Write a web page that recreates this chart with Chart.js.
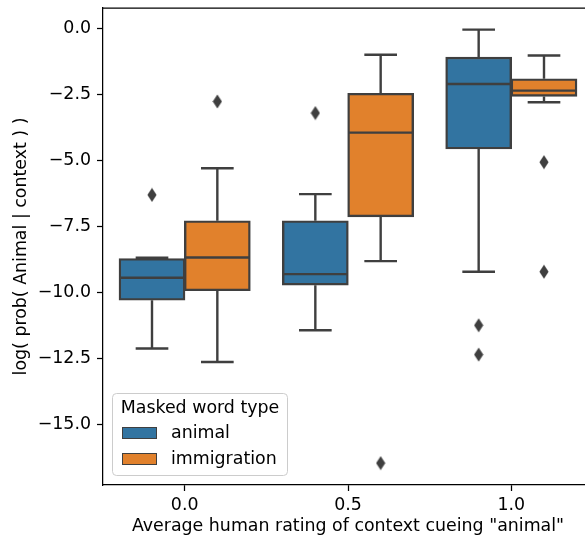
<!DOCTYPE html>
<html>
<head>
<meta charset="utf-8">
<title>log prob boxplot</title>
<script src="https://cdn.jsdelivr.net/npm/chart.js@4.4.0/dist/chart.umd.min.js"></script>
<style>
  html, body { margin: 0; padding: 0; background: #fff; overflow: hidden; }
  #wrap { width: 599px; height: 540px; }
</style>
</head>
<body>
<div id="wrap"><canvas id="box-chart" width="599" height="540"></canvas></div>
<script>
const groups = ['0.0', '0.5', '1.0'];
const yTicks = [0, -2.5, -5, -7.5, -10, -12.5, -15];
const hueNames = ['animal', 'immigration'];
const hueColors = ['#3274a1', '#e1812c'];

// animal boxes: whisker low, Q1, median, Q3, whisker high, outliers
const animalLo = [-12.14, -11.45, -9.23];
const animalQ1 = [-10.31, -9.74, -4.58];
const animalMed = [-9.46, -9.32, -2.12];
const animalQ3 = [-8.73, -7.30, -1.10];
const animalHi = [-8.70, -6.29, -0.06];
const animalOut = [[-6.32], [-3.22], [-11.26, -12.37]];

// immigration boxes
const immigLo = [-12.65, -8.83, -2.81];
const immigQ1 = [-9.95, -7.15, -2.59];
const immigMed = [-8.69, -3.96, -2.37];
const immigQ3 = [-7.30, -2.47, -1.92];
const immigHi = [-5.31, -1.01, -1.04];
const immigOut = [[-2.78], [-16.48], [-5.08, -9.23]];

const EDGE = '#3f3f3f';
const LW = 2.4;
const FONT_PX = 17.4;
const OFFSETS = [-0.2, 0.2];
const BOX_HALF = 0.196;
const CAP_HALF = 0.1;

Chart.defaults.font.family = '"DejaVu Sans", sans-serif';
Chart.defaults.font.size = FONT_PX;
Chart.defaults.color = '#000';

function diamondMarker() {
  const c = document.createElement('canvas');
  c.width = 10; c.height = 15;
  const g = c.getContext('2d');
  g.fillStyle = EDGE;
  g.beginPath();
  g.moveTo(5, 0.4); g.lineTo(9.6, 7.5); g.lineTo(5, 14.6); g.lineTo(0.4, 7.5);
  g.closePath();
  g.fill();
  return c;
}

function boxDataset(name, color, off, q1, q3) {
  return {
    type: 'bar',
    label: name,
    data: q1.map((v, i) => ({ x: i + off, y: [v, q3[i]] })),
    backgroundColor: color,
    borderColor: EDGE,
    borderWidth: LW,
    borderSkipped: false,
    grouped: false,
    barThickness: 66,
    xAxisID: 'x2',
    order: 3,
  };
}

function lineParts(off, lo, q1, med, q3, hi) {
  const pts = [];
  groups.forEach((_, i) => {
    const c = i + off;
    const segs = [
      [[c, q3[i]], [c, hi[i]]],
      [[c - CAP_HALF, hi[i]], [c + CAP_HALF, hi[i]]],
      [[c, q1[i]], [c, lo[i]]],
      [[c - CAP_HALF, lo[i]], [c + CAP_HALF, lo[i]]],
      [[c - BOX_HALF, med[i]], [c + BOX_HALF, med[i]]],
    ];
    segs.forEach(s => {
      pts.push({ x: s[0][0], y: s[0][1] }, { x: s[1][0], y: s[1][1] }, { x: c, y: null });
    });
  });
  return {
    type: 'line',
    data: pts,
    xAxisID: 'x2',
    borderColor: EDGE,
    borderWidth: LW,
    pointRadius: 0,
    spanGaps: false,
    fill: false,
    order: 1,
  };
}

function outlierDataset(off, outs, marker) {
  const pts = [];
  outs.forEach((list, i) => list.forEach(v => pts.push({ x: i + off, y: v })));
  return {
    type: 'line',
    data: pts,
    xAxisID: 'x2',
    showLine: false,
    pointStyle: marker,
    pointRadius: 5,
    order: 0,
  };
}

const topSpine = {
  id: 'topSpine',
  afterDraw(chart) {
    const { ctx, chartArea } = chart;
    ctx.save();
    ctx.strokeStyle = '#000';
    ctx.lineWidth = 1.25;
    ctx.beginPath();
    ctx.moveTo(chartArea.left, chartArea.top);
    ctx.lineTo(chartArea.right, chartArea.top);
    ctx.stroke();
    ctx.restore();
  },
};

const legendBox = {
  id: 'legendBox',
  afterDraw(chart) {
    const ctx = chart.ctx;
    ctx.save();
    ctx.beginPath();
    ctx.roundRect(112.5, 393.5, 175, 82, 4);
    ctx.fillStyle = 'rgba(255,255,255,0.8)';
    ctx.fill();
    ctx.strokeStyle = '#cccccc';
    ctx.lineWidth = 1;
    ctx.stroke();
    ctx.font = `${FONT_PX}px "DejaVu Sans"`;
    ctx.fillStyle = '#000';
    ctx.textBaseline = 'middle';
    ctx.textAlign = 'center';
    ctx.fillText('Masked word type', 200, 408);
    ctx.textAlign = 'left';
    hueNames.forEach((name, i) => {
      const y = 433 + i * 26;
      ctx.fillStyle = hueColors[i];
      ctx.fillRect(122, y - 6, 35, 12);
      ctx.strokeStyle = EDGE;
      ctx.lineWidth = 1;
      ctx.strokeRect(122.5, y - 5.5, 34, 11);
      ctx.fillStyle = '#000';
      ctx.fillText(name, 171, y);
    });
    ctx.restore();
  },
};

function fmtTick(v) {
  return Number(v).toFixed(1).replace('-', '\u2212');
}

const marker = diamondMarker();

new Chart(document.getElementById('box-chart'), {
  type: 'bar',
  data: {
    labels: groups,
    datasets: [
      boxDataset(hueNames[0], hueColors[0], OFFSETS[0], animalQ1, animalQ3),
      boxDataset(hueNames[1], hueColors[1], OFFSETS[1], immigQ1, immigQ3),
      lineParts(OFFSETS[0], animalLo, animalQ1, animalMed, animalQ3, animalHi),
      lineParts(OFFSETS[1], immigLo, immigQ1, immigMed, immigQ3, immigHi),
      outlierDataset(OFFSETS[0], animalOut, marker),
      outlierDataset(OFFSETS[1], immigOut, marker),
    ],
  },
  options: {
    responsive: false,
    animation: false,
    layout: { padding: { top: 8, right: 0, bottom: 0, left: 0 } },
    plugins: { legend: { display: false }, tooltip: { enabled: false } },
    scales: {
      x: {
        type: 'category',
        offset: true,
        grid: { display: true, offset: false, drawOnChartArea: false, drawTicks: true, tickLength: 6, tickColor: '#000', tickWidth: 1.25 },
        border: { display: true, color: '#000', width: 1.25 },
        ticks: { padding: 4, maxRotation: 0 },
        title: { display: true, text: 'Average human rating of context cueing "animal"', padding: { top: 0, bottom: 3 } },
        afterFit(scale) {
          scale.height = 55;
          scale.paddingLeft = 0;
          scale.paddingRight = 0;
        },
      },
      x2: {
        type: 'linear',
        display: false,
        offset: false,
        min: -0.5,
        max: 2.5,
      },
      y: {
        type: 'linear',
        min: -17.31,
        max: 0.76,
        grid: { display: true, drawOnChartArea: false, drawTicks: true, tickLength: 6, tickColor: '#000', tickWidth: 1.25 },
        border: { display: true, color: '#000', width: 1.25 },
        ticks: { padding: 6, callback: fmtTick },
        afterBuildTicks(scale) { scale.ticks = yTicks.map(v => ({ value: v })); },
        title: { display: true, text: 'log( prob( Animal | context ) )', padding: { top: 11, bottom: 0 } },
        afterFit(scale) {
          scale.width = 103;
          scale.paddingTop = 0;
          scale.paddingBottom = 0;
        },
      },
    },
  },
  plugins: [topSpine, legendBox],
});
</script>
</body>
</html>
